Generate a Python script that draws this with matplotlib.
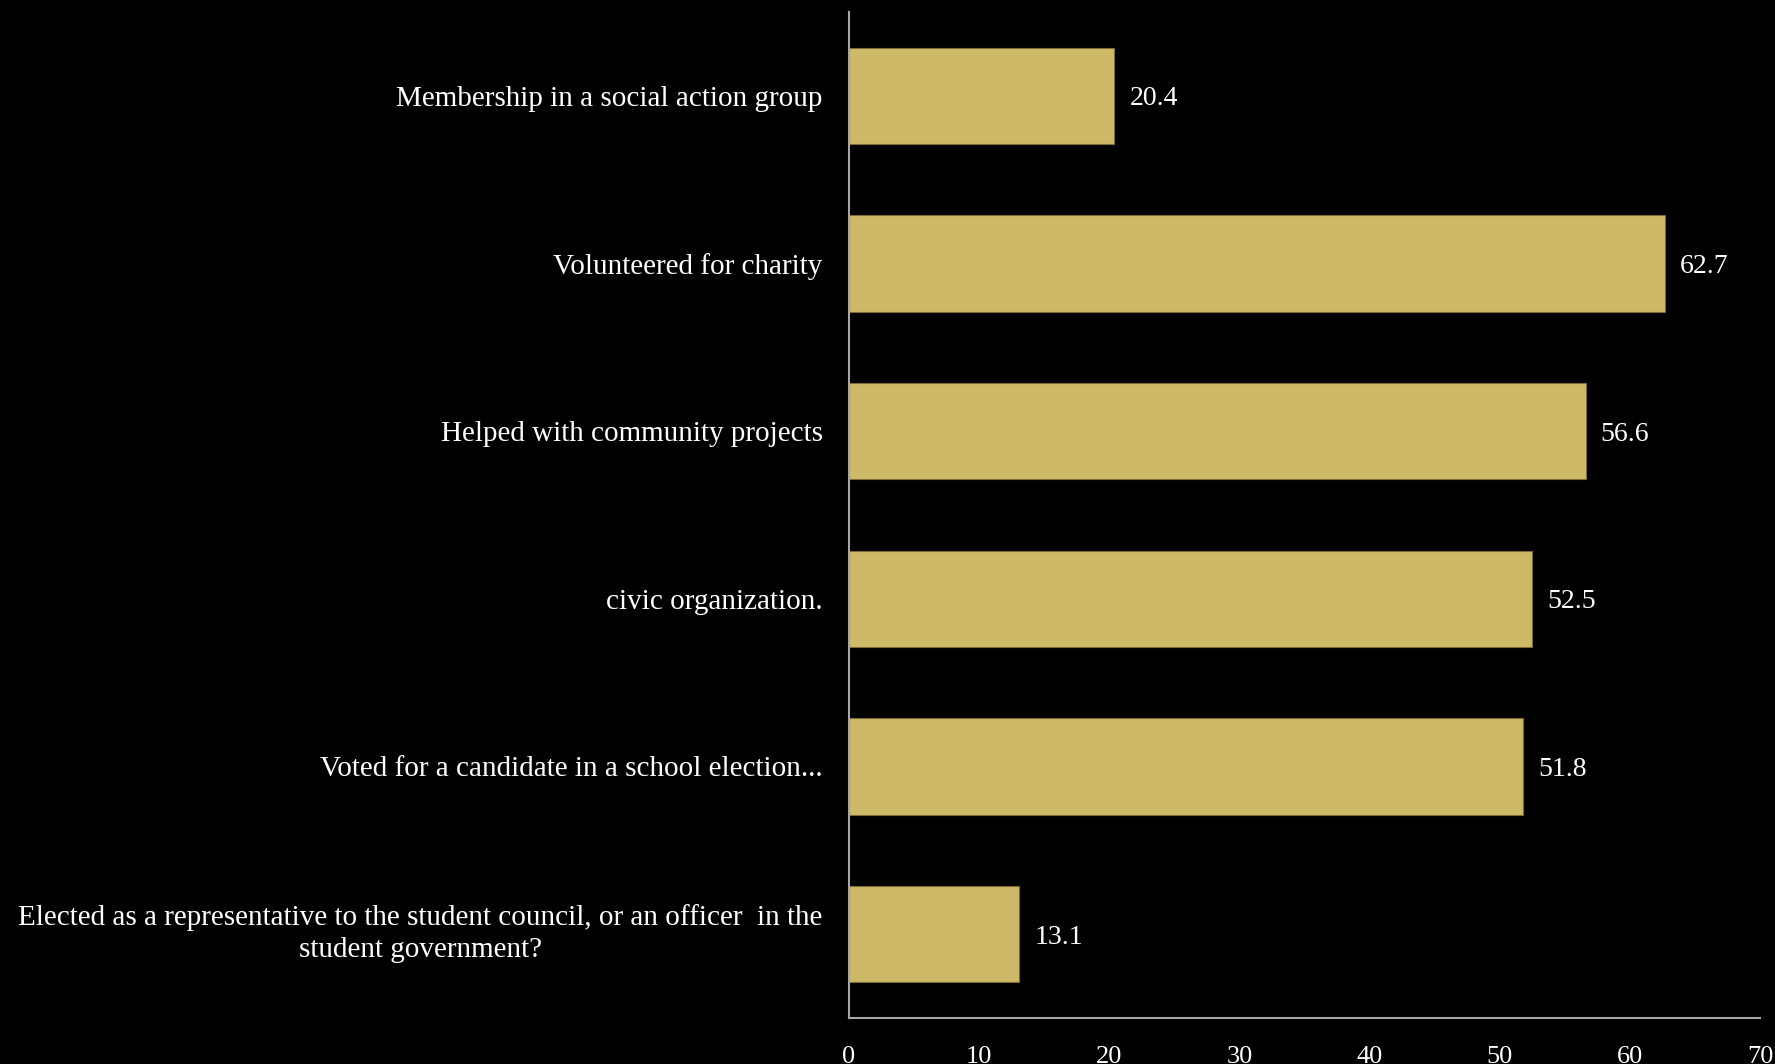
import matplotlib.pyplot as plt
from matplotlib.transforms import ScaledTranslation

# Civic participation items, listed bottom to top
items = [
    "Elected as a representative to the student council, or an officer  in the\nstudent government?",
    "Voted for a candidate in a school election...",
    "civic organization.",
    "Helped with community projects",
    "Volunteered for charity",
    "Membership in a social action group",
]
percent = [13.1, 51.8, 52.5, 56.6, 62.7, 20.4]
xticks = [0, 10, 20, 30, 40, 50, 60, 70]

bar_color = "#CDB967"
axis_color = "#A6A6A6"
plt.rcParams["font.family"] = ["Liberation Serif", "DejaVu Serif"]

fig = plt.figure(figsize=(17.75, 10.64), dpi=100, facecolor="black")
ax = fig.add_axes([849 / 1775, 1 - 1018 / 1064, (1760 - 849) / 1775, (1018 - 12) / 1064])
ax.set_facecolor("black")

ypos = range(len(items))
bars = ax.barh(ypos, percent, height=0.575, color=bar_color,
               edgecolor="#7a6d3a", linewidth=0.8)

for b, v in zip(bars, percent):
    ax.annotate(f"{v}", (b.get_width(), b.get_y() + b.get_height() / 2),
                xytext=(15, 0), textcoords="offset pixels",
                va="center_baseline", ha="left", color="white", fontsize=20)

ax.set_xlim(0, 70)
ax.set_ylim(-0.5, 5.5)
ax.set_xticks(xticks)
ax.set_xticklabels([str(t) for t in xticks])
ax.set_yticks(list(ypos))
ax.set_yticklabels(items, multialignment="center", linespacing=1.3)

ax.tick_params(axis="x", length=0, pad=20, colors="white", labelsize=19)
ax.tick_params(axis="y", length=0, pad=19, colors="white", labelsize=21)

# nudge the two-line label up a touch
first = ax.yaxis.get_major_ticks()[0].label1
first.set_transform(first.get_transform() + ScaledTranslation(0, 0.07, fig.dpi_scale_trans))

for side in ["top", "right"]:
    ax.spines[side].set_visible(False)
for side in ["left", "bottom"]:
    ax.spines[side].set_color(axis_color)
    ax.spines[side].set_linewidth(1.5)

fig.savefig("out.png", dpi=100, facecolor="black")
